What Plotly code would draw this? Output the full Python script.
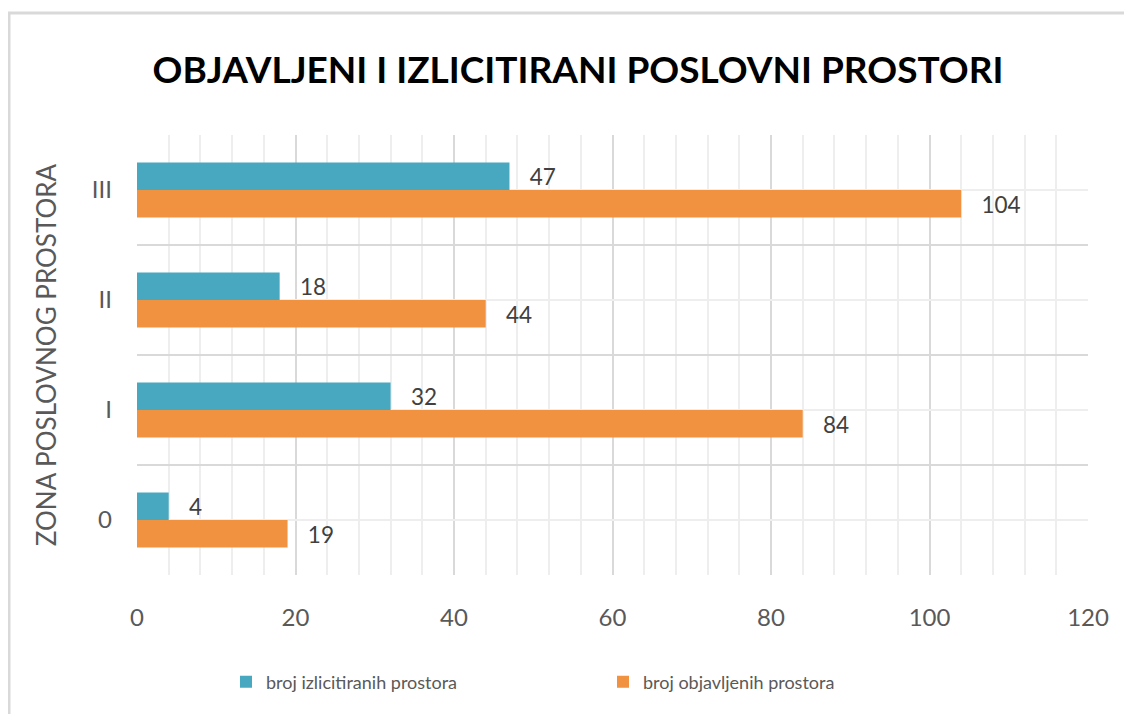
import plotly.graph_objects as go

categories = ["0", "I", "II", "III"]
izlicitirani = [4, 32, 18, 47]
objavljeni = [19, 84, 44, 104]
series_names = ["broj izlicitiranih prostora", "broj objavljenih prostora"]
title_text = "OBJAVLJENI I IZLICITIRANI POSLOVNI PROSTORI"
y_title = "ZONA POSLOVNOG PROSTORA"
x_ticks = [0, 20, 40, 60, 80, 100, 120]

TEAL = "#48a8c0"
ORANGE = "#f19240"
FONT = "Lato"
pos = list(range(len(categories)))
bounds = [p - 0.5 for p in pos] + [pos[-1] + 0.5]

fig = go.Figure()
fig.add_trace(go.Bar(
    y=pos, x=objavljeni, orientation="h", name=series_names[1],
    marker=dict(color=ORANGE, line=dict(width=0)),
    texttemplate="\u00a0\u00a0\u00a0%{x}", textposition="outside",
    textfont=dict(family=FONT, size=27, color="#404040"), cliponaxis=False,
))
fig.add_trace(go.Bar(
    y=pos, x=izlicitirani, orientation="h", name=series_names[0],
    marker=dict(color=TEAL, line=dict(width=0)),
    texttemplate="\u00a0\u00a0\u00a0%{x}", textposition="outside",
    textfont=dict(family=FONT, size=27, color="#404040"), cliponaxis=False,
))

# page body adds an 8px margin; figure is sized to fit inside the window
OFF = 8
W, H = 1132 - 2 * OFF, 722 - 2 * OFF
L, T = 137 - OFF, 135 - OFF
R = W - (1088 - OFF)
B = H - (575 - OFF)
pw, ph = W - L - R, H - T - B

fig.update_layout(
    width=W, height=H,
    margin=dict(l=L, r=R, t=T, b=B, autoexpand=False),
    paper_bgcolor="white", plot_bgcolor="white",
    barmode="group", bargap=0.5, bargroupgap=0,
    font=dict(family=FONT, color="#595959"),
    title=dict(text=title_text, x=(578 - OFF) / W, xref="container", xanchor="center",
               y=1 - (70 - OFF) / H, yref="container", yanchor="middle",
               font=dict(family=FONT, size=37, color="#000000", weight="bold")),
    legend=dict(orientation="h", traceorder="reversed",
                x=(226 - 137) / 951, xanchor="left",
                y=(575 - 682) / 440, yanchor="middle",
                font=dict(family=FONT, size=18, color="#595959"),
                itemwidth=30, entrywidth=332),
    xaxis=dict(range=[0, 120], tickvals=x_ticks, showgrid=True, automargin=False,
               gridcolor="#d9d9d9", gridwidth=1.5, zeroline=False,
               tickfont=dict(family=FONT, size=24, color="#595959"),
               ticks="", ticklabelstandoff=26,
               minor=dict(dtick=4, showgrid=True, gridcolor="#eeeeee", gridwidth=1.5)),
    yaxis=dict(range=[-0.5, len(categories) - 0.5], tickvals=pos, ticktext=categories,
               showgrid=True, gridcolor="#eeeeee", gridwidth=1.5, zeroline=False,
               automargin=False,
               tickfont=dict(family=FONT, size=24, color="#595959"),
               ticks="", ticklabelstandoff=24,
               title=dict(text=y_title, standoff=27,
                          font=dict(family=FONT, size=26, color="#595959")),
               minor=dict(tickvals=bounds, showgrid=True, gridcolor="#d9d9d9", gridwidth=1.5)),
)

# outer chart border (light gray frame)
fig.add_shape(type="rect", xref="paper", yref="paper",
              x0=(9 - 137) / pw, x1=(1132 + 30 - 137) / pw,
              y0=-(722 + 30 - 575) / ph, y1=1 + (135 - 13) / ph,
              line=dict(color="#d9d9d9", width=3), fillcolor="rgba(0,0,0,0)", layer="below")

fig.write_html("out.html")
